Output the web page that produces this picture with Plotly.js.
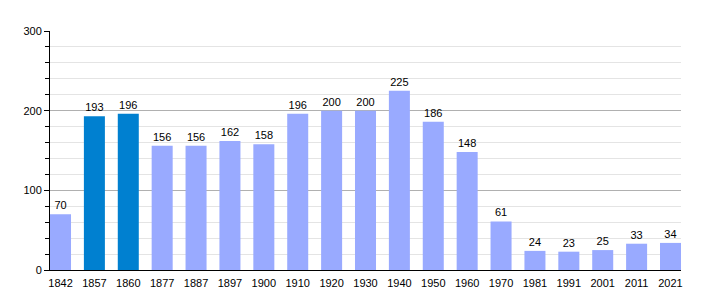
<!DOCTYPE html>
<html><head><meta charset="utf-8">
<script src="https://cdn.plot.ly/plotly-3.0.1.min.js"></script>
<style>body{margin:0;padding:0;background:#fff}</style>
</head><body>
<div id="chart" style="width:710px;height:300px"></div>
<script>
const years = ['1842','1857','1860','1877','1887','1897','1900','1910','1920','1930','1940','1950','1960','1970','1981','1991','2001','2011','2021'];
const population = [70,193,196,156,156,162,158,196,200,200,225,186,148,61,24,23,25,33,34];
const highlighted = ['1857','1860'];
const lightColor = '#99aaff';
const darkColor = '#0080d0';
const colors = years.map(y => highlighted.includes(y) ? darkColor : lightColor);

Plotly.newPlot('chart', [{
  type: 'bar',
  x: years,
  y: population,
  marker: {color: colors},
  text: population.map(String),
  textposition: 'outside',
  textfont: {family: 'Liberation Sans, Arial, sans-serif', size: 11, color: '#000'},
  cliponaxis: false,
  hoverinfo: 'none'
}], {
  width: 710, height: 300,
  margin: {l: 50, r: 29, t: 31, b: 30},
  paper_bgcolor: '#fff', plot_bgcolor: '#fff',
  bargap: 0.38,
  showlegend: false,
  font: {family: 'Liberation Sans, Arial, sans-serif', size: 11, color: '#000'},
  xaxis: {
    type: 'category',
    range: [-0.31, 18.31],
    showline: true, linecolor: '#000', linewidth: 1,
    ticks: '', showgrid: false, zeroline: false,
    ticklabelstandoff: 3,
    tickfont: {size: 11, color: '#000'}
  },
  yaxis: {
    range: [0, 300],
    dtick: 100,
    showline: true, linecolor: '#000', linewidth: 1,
    ticks: 'outside', ticklen: 5, tickcolor: '#000',
    showgrid: true, gridcolor: '#b0b0b0', gridwidth: 1,
    zeroline: false,
    tickfont: {size: 11, color: '#000'},
    minor: {dtick: 20, ticks: 'outside', ticklen: 4, tickcolor: '#000', showgrid: true, gridcolor: '#e4e4e4', gridwidth: 1}
  }
}, {staticPlot: true, displayModeBar: false});
</script>
</body></html>
